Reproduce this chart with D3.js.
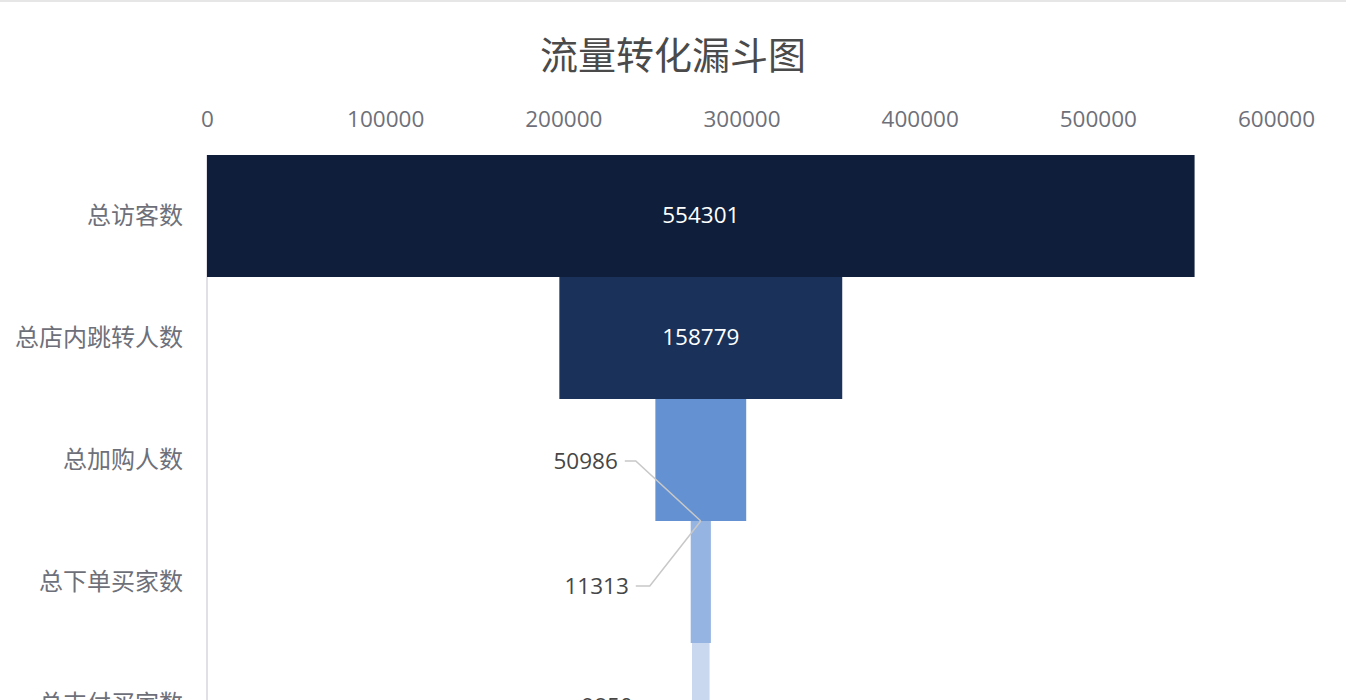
<!DOCTYPE html>
<html><head><meta charset="utf-8">
<script src="https://cdn.jsdelivr.net/npm/d3@7/dist/d3.min.js"></script>
<style>
html,body{margin:0;padding:0;background:#fff;overflow:hidden;}
svg{display:block;}
text{font-family:"Noto Sans CJK SC","Noto Sans",sans-serif;}
.num{font-family:"Open Sans","Noto Sans",sans-serif;}
</style></head>
<body>
<svg id="chart" width="1346" height="700"></svg>
<script>
const title = "流量转化漏斗图";
const categories = ["总访客数","总店内跳转人数","总加购人数","总下单买家数","总支付买家数"];
const values = [554301,158779,50986,11313,9850];
const colors = ["#0f1f3b","#1a3259","#6391d2","#95b4e2","#c9d8ef"];
const tickValues = [0,100000,200000,300000,400000,500000,600000];

(function(){
const svg = d3.select("#chart");
const W = 1346;
const plotLeft = 207, plotRight = 1276, plotTop = 155, band = 122;

svg.append("rect").attr("x",0).attr("y",0).attr("width",W).attr("height",2).attr("fill","#e6e6e6");

svg.append("text").attr("x",673).attr("y",52).attr("text-anchor","middle")
  .attr("dominant-baseline","central").attr("font-size",38).attr("fill","#4a4a4a").text(title);

const x = d3.scaleLinear().domain([0,600000]).range([plotLeft,plotRight]);
const y = d3.scaleBand().domain(categories).range([plotTop, plotTop + band*categories.length]).padding(0);

const xAxis = d3.axisTop(x).tickValues(tickValues).tickSize(0).tickPadding(0).tickFormat(d3.format("d"));
const gx = svg.append("g").attr("transform","translate(0,118)").call(xAxis);
gx.select(".domain").remove();
gx.selectAll("text").attr("class","num").attr("font-size",22.5).attr("fill","#6e7079")
  .attr("dominant-baseline","central").attr("dy",null).attr("y",0);

svg.append("line").attr("x1",plotLeft).attr("x2",plotLeft).attr("y1",plotTop).attr("y2",plotTop+band*categories.length)
  .attr("stroke","#e0e0e6").attr("stroke-width",2);

svg.append("g").selectAll("text").data(categories).join("text")
  .attr("x",183).attr("y",d=>y(d)+y.bandwidth()/2-3)
  .attr("text-anchor","end").attr("dominant-baseline","central")
  .attr("font-size",24).attr("fill","#6e7079").text(d=>d);

const maxV = d3.max(values);
const data = categories.map((c,i)=>({c, v:values[i], color:colors[i], i}));

svg.append("g").selectAll("rect").data(data).join("rect")
  .attr("x",d=>x((maxV-d.v)/2)).attr("width",d=>x((maxV+d.v)/2)-x((maxV-d.v)/2))
  .attr("y",d=>y(d.c)).attr("height",y.bandwidth()).attr("fill",d=>d.color);

const cx = x(maxV/2);
const labG = svg.append("g");
const hOff = {2:76, 3:65, 4:61};
const yOff = {2:1, 3:4, 4:2};
data.forEach(d=>{
  const w = x((maxV+d.v)/2)-x((maxV-d.v)/2);
  const cy = y(d.c)+y.bandwidth()/2;
  if (w > 100) {
    labG.append("text").attr("class","num").attr("x",cx).attr("y",cy-2).attr("text-anchor","middle")
      .attr("dominant-baseline","central").attr("font-size",22.5).attr("fill","#fff").text(d.v);
  } else {
    const ay = d.i === 3 ? y(d.c) : y(d.c)+y.bandwidth();
    const ly = cy + yOff[d.i];
    const hx = cx - hOff[d.i];
    const hx2 = d.i === 2 ? hx + 11 : hx + 14;
    labG.append("polyline").attr("points",`${hx},${ly} ${hx2},${ly} ${cx},${ay}`)
      .attr("fill","none").attr("stroke","#c8c8c8").attr("stroke-width",1.5);
    labG.append("text").attr("class","num").attr("x",hx-7).attr("y",ly-1).attr("text-anchor","end")
      .attr("dominant-baseline","central").attr("font-size",22.5).attr("fill","#464646").text(d.v);
  }
});
})();
</script>
</body></html>
